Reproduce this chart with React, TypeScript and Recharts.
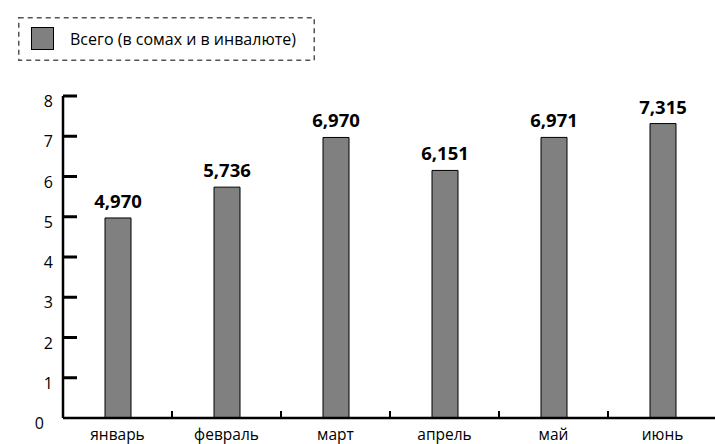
import React from "react";
import { BarChart, Bar, XAxis, YAxis, LabelList } from "recharts";

const months = ["январь", "февраль", "март", "апрель", "май", "июнь"];
const totals = [4.97, 5.736, 6.97, 6.151, 6.971, 7.315];
const yTicks = [0, 1, 2, 3, 4, 5, 6, 7, 8];
const seriesName = "Всего (в сомах и в инвалюте)";

const data = months.map((m, i) => ({ month: m, total: totals[i] }));

const FONT = "'Open Sans', 'Noto Sans', sans-serif";
const CHART_W = 717;
const CHART_H = 444;
const M = { top: 96, right: 0, bottom: 0, left: 0 };
const Y_W = 63;
const X_H = 26;
const BAND = (CHART_W - M.left - M.right - Y_W) / months.length;

const fmt = (v: number) => v.toFixed(3).replace(".", ",");

const YTick = (props: any) => {
  const { x, y, payload } = props;
  const shift = payload.value === 0 ? -9 : 0;
  return (
    <g>
      {payload.value !== 0 && (
        <line x1={x} x2={x + 14} y1={y} y2={y} stroke="#000" strokeWidth={3} />
      )}
      <text
        x={x - 10 + shift}
        y={y + 5}
        textAnchor="end"
        dominantBaseline="central"
        fontFamily={FONT}
        fontSize={16}
        fill="#000"
      >
        {payload.value}
      </text>
    </g>
  );
};

const XTick = (props: any) => {
  const { x, y, payload, index } = props;
  const last = index === months.length - 1;
  return (
    <g>
      {!last && (
        <line
          x1={x + BAND / 2}
          x2={x + BAND / 2}
          y1={y}
          y2={y - 7}
          stroke="#000"
          strokeWidth={2}
        />
      )}
      <text
        x={x}
        y={y + 16}
        textAnchor="middle"
        dominantBaseline="central"
        fontFamily={FONT}
        fontSize={15.5}
        fill="#000"
      >
        {payload.value}
      </text>
    </g>
  );
};

// Legend box with a dashed frame drawn as an SVG rect
const LegendBox = () => (
  <div
    style={{
      position: "absolute",
      left: 18,
      top: 17,
      width: 297,
      height: 44,
      fontFamily: FONT,
      fontSize: 16,
      color: "#000",
    }}
  >
    <svg
      width={297}
      height={44}
      style={{ position: "absolute", left: 0, top: 0 }}
    >
      <rect
        x={0.75}
        y={0.75}
        width={295.5}
        height={42.5}
        fill="none"
        stroke="#555"
        strokeWidth={1.5}
        strokeDasharray="5 4"
      />
    </svg>
    <div
      style={{
        position: "absolute",
        left: 13,
        top: 10,
        width: 23,
        height: 23,
        background: "#808080",
        border: "1px solid #000",
        boxSizing: "border-box",
      }}
    />
    <span
      style={{
        position: "absolute",
        left: 52,
        top: 0,
        lineHeight: "44px",
        whiteSpace: "nowrap",
      }}
    >
      {seriesName}
    </span>
  </div>
);

export default function App() {
  return (
    <div
      style={{
        position: "absolute",
        left: 0,
        top: 0,
        width: 715,
        height: 444,
        overflow: "hidden",
        background: "#fff",
      }}
    >
      <BarChart width={CHART_W} height={CHART_H} data={data} margin={M} barSize={26}>
        <XAxis
          dataKey="month"
          height={X_H}
          tickLine={false}
          tickSize={0}
          tickMargin={0}
          axisLine={{ stroke: "#000", strokeWidth: 2.5 }}
          tick={<XTick />}
          interval={0}
        />
        <YAxis
          width={Y_W}
          domain={[0, 8]}
          ticks={yTicks}
          tickLine={false}
          tickSize={0}
          tickMargin={0}
          axisLine={{ stroke: "#000", strokeWidth: 2.5 }}
          tick={<YTick />}
          interval={0}
        />
        <Bar
          dataKey="total"
          name={seriesName}
          fill="#808080"
          stroke="#000"
          strokeWidth={1}
          isAnimationActive={false}
        >
          <LabelList
            dataKey="total"
            position="top"
            offset={10}
            formatter={(v: any) => fmt(Number(v))}
            style={{ fontFamily: FONT, fontSize: 18.5, fontWeight: 700, fill: "#000" }}
          />
        </Bar>
      </BarChart>
      <LegendBox />
    </div>
  );
}
